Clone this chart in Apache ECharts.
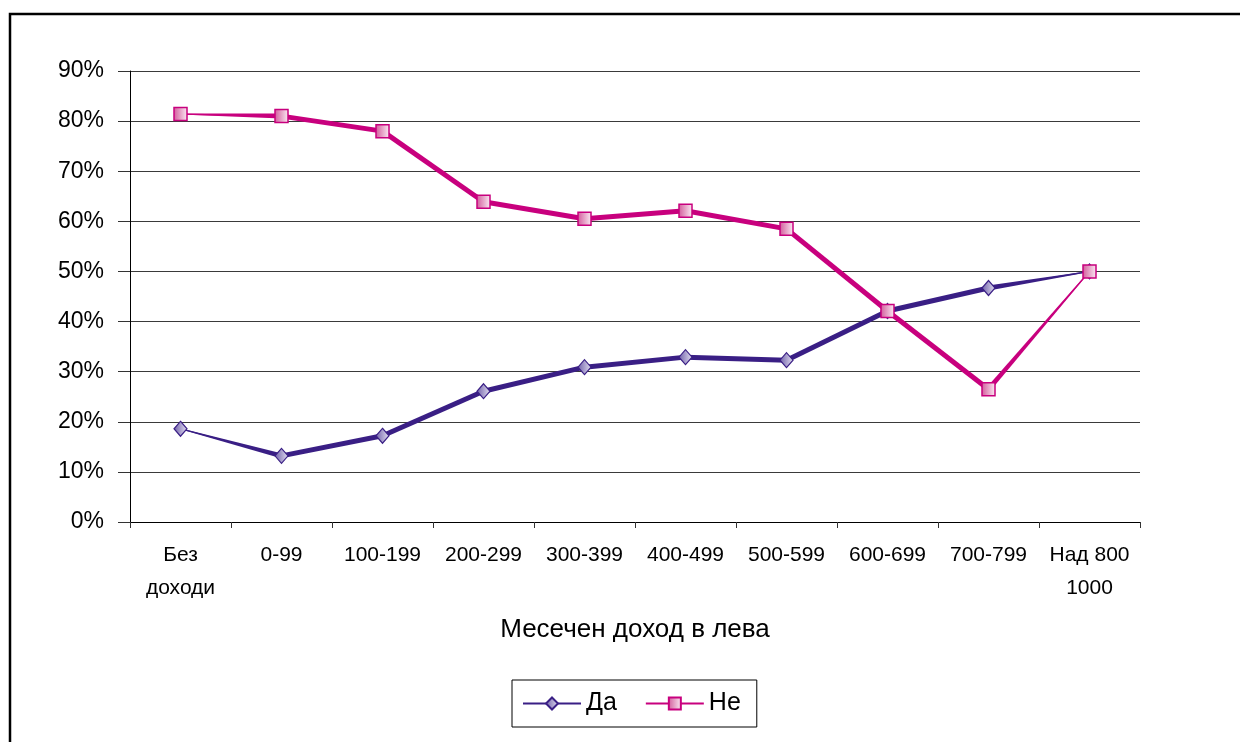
<!DOCTYPE html>
<html>
<head>
<meta charset="utf-8">
<script src="https://cdn.jsdelivr.net/npm/echarts@6/dist/echarts.min.js"></script>
<style>html,body{margin:0;padding:0;background:#fff}#c{width:1240px;height:742px}</style>
</head>
<body>
<div id="c"></div>
<script>
const categories = ['Без\nдоходи','0-99','100-199','200-299','300-399','400-499','500-599','600-699','700-799','Над 800\n1000'];
const daValues = [18.6, 13.2, 17.2, 26.1, 30.9, 32.9, 32.3, 42.1, 46.7, 50.0];
const neValues = [81.4, 81.0, 78.0, 63.9, 60.5, 62.1, 58.5, 42.1, 26.5, 50.0];
const yTicks = [0, 10, 20, 30, 40, 50, 60, 70, 80, 90];
const seriesNames = ['Да', 'Не'];
const xAxisTitle = 'Месечен доход в лева';

const FONT = '"Liberation Sans", Arial, sans-serif';
const DA_COLOR = '#3a1f85';
const NE_COLOR = '#c8007e';

function segData(vals) {
  const out = [];
  for (let i = 0; i < vals.length - 1; i++) out.push([i, vals[i], vals[i + 1]]);
  return out;
}

function taperSeries(vals, color) {
  const last = vals.length - 1;
  const wAt = j => (j === 0 || j === last) ? 1 : 5;
  return {
    type: 'custom',
    data: segData(vals),
    silent: true,
    z: 2,
    legendHoverLink: false,
    tooltip: {show: false},
    renderItem: function (params, api) {
      const i = api.value(0);
      const p0 = api.coord([i, api.value(1)]);
      const p1 = api.coord([i + 1, api.value(2)]);
      const dx = p1[0] - p0[0], dy = p1[1] - p0[1];
      const len = Math.sqrt(dx * dx + dy * dy) || 1;
      const nx = -dy / len, ny = dx / len;
      const w0 = wAt(i) / 2, w1 = wAt(i + 1) / 2;
      const pts = [
        [p0[0] + nx * w0, p0[1] + ny * w0],
        [p1[0] + nx * w1, p1[1] + ny * w1],
        [p1[0] - nx * w1, p1[1] - ny * w1],
        [p0[0] - nx * w0, p0[1] - ny * w0]
      ];
      const children = [{type: 'polygon', shape: {points: pts}, style: {fill: color}}];
      if (i + 1 < last) {
        children.push({type: 'circle', shape: {cx: p1[0], cy: p1[1], r: w1}, style: {fill: color}});
      }
      return {type: 'group', children: children};
    }
  };
}

const chart = echarts.init(document.getElementById('c'), null, {renderer: 'canvas'});
chart.setOption({
  backgroundColor: '#fff',
  animation: false,
  textStyle: {fontFamily: FONT},
  graphic: [{
    type: 'rect',
    shape: {x: 10, y: 14, width: 1300, height: 800},
    style: {fill: 'none', stroke: '#000', lineWidth: 2.5},
    z: 100
  }],
  grid: {left: 130, right: 100, top: 71, bottom: 220, containLabel: false},
  legend: {
    data: seriesNames,
    left: 512,
    top: 680,
    itemWidth: 58,
    itemHeight: 15,
    itemGap: 28,
    padding: [11, 16, 11, 10],
    borderColor: '#000',
    borderWidth: 1,
    textStyle: {fontFamily: FONT, fontSize: 25, color: '#000'}
  },
  xAxis: {
    type: 'category',
    data: categories,
    boundaryGap: true,
    name: xAxisTitle,
    nameLocation: 'middle',
    nameGap: 95,
    nameTextStyle: {fontFamily: FONT, fontSize: 26, color: '#000'},
    axisLine: {lineStyle: {color: '#000', width: 1}},
    axisTick: {show: true, length: 6, inside: false, lineStyle: {color: '#333'}},
    axisLabel: {fontFamily: FONT, fontSize: 21, color: '#000', margin: 17, lineHeight: 33, interval: 0, verticalAlign: 'top'},
    splitLine: {show: false}
  },
  yAxis: {
    type: 'value',
    min: 0,
    max: 90,
    interval: 10,
    axisLine: {show: true, lineStyle: {color: '#000', width: 1}},
    axisTick: {show: true, length: 12, lineStyle: {color: '#333'}},
    axisLabel: {
      fontFamily: FONT, fontSize: 23, color: '#000', margin: 26,
      formatter: v => (yTicks.indexOf(v) >= 0 ? v + '%' : '')
    },
    splitLine: {show: true, lineStyle: {color: '#3a3a3a', width: 1}}
  },
  series: [
    taperSeries(daValues, DA_COLOR),
    taperSeries(neValues, NE_COLOR),
    {
      name: seriesNames[0],
      type: 'line',
      data: daValues,
      z: 3,
      symbol: 'diamond',
      symbolSize: [13, 15],
      lineStyle: {color: DA_COLOR, width: 1.2},
      itemStyle: {
        color: new echarts.graphic.LinearGradient(0, 0, 1, 0, [
          {offset: 0, color: '#6e5ea8'}, {offset: 1, color: '#e4e0f2'}
        ]),
        borderColor: DA_COLOR,
        borderWidth: 1.2
      }
    },
    {
      name: seriesNames[1],
      type: 'line',
      data: neValues,
      z: 4,
      symbol: 'rect',
      symbolSize: 13,
      lineStyle: {color: NE_COLOR, width: 1.2},
      itemStyle: {
        color: new echarts.graphic.LinearGradient(0, 0, 1, 0, [
          {offset: 0, color: '#d2589a'}, {offset: 1, color: '#fbeef5'}
        ]),
        borderColor: NE_COLOR,
        borderWidth: 1.5
      }
    }
  ]
});
</script>
</body>
</html>
